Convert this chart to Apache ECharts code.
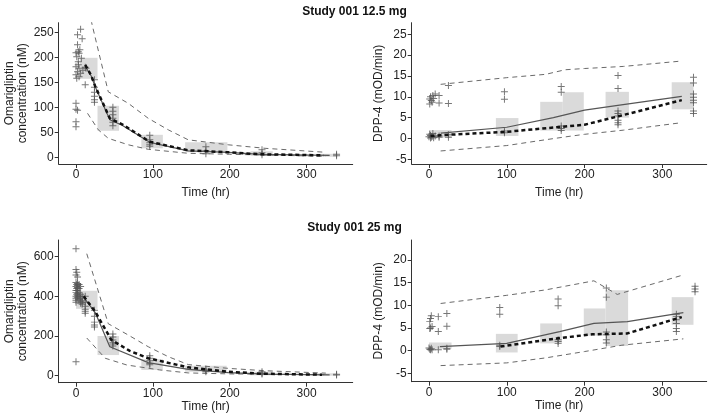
<!DOCTYPE html>
<html>
<head>
<meta charset="utf-8">
<script src="https://cdn.jsdelivr.net/npm/echarts@6/dist/echarts.min.js"></script>
<style>
  html, body { margin: 0; padding: 0; background: #fff; }
  #main { width: 709px; height: 419px; }
</style>
</head>
<body>
<div id="main"></div>
<script>
// ---- data (time in hr) ----
var titles = ["Study 001 12.5 mg", "Study 001 25 mg"];
var xTicks = [0, 100, 200, 300];
var pkTicks125 = [0, 50, 100, 150, 200, 250];
var pkTicks25 = [0, 200, 400, 600];
var pdTicks125 = [-5, 0, 5, 10, 15, 20, 25];
var pdTicks25 = [-5, 0, 5, 10, 15, 20];

// boxes: [t0, t1, low, high]
var pk125Boxes = [[5, 28, 157, 199], [28, 56, 53, 103], [85, 113, 18, 45], [142, 197, 10, 30], [227, 256, 3, 12], [313, 340, 1, 7]];
var pk125Upper = [[15, 310], [21, 265], [42, 131], [68, 108], [94, 78], [120, 55], [146, 35], [198, 25], [246, 18], [325, 10]];
var pk125Lower = [[15, 88], [29, 55], [42, 38], [68, 25], [94, 16], [146, 8], [200, 6], [246, 4.6], [325, 2]];
var pk125Obs = [[12, 182], [20, 162], [25, 141], [44, 75], [60, 64], [96, 30], [146, 13], [198, 10], [241, 6], [330, 4]];
var pk125Pred = [[12, 185], [20, 163], [25, 142], [44, 78], [60, 66], [96, 31], [146, 14], [198, 10], [241, 6], [322, 4]];
var pk125Points = [
  [6, 256], [2, 245], [8, 237], [2, 225], [3, 211], [0, 209], [4, 208], [1, 201], [7, 198], [3, 191],
  [0, 181], [4, 178], [2, 171], [9, 174], [0, 165], [4, 161], [1, 158], [6, 168], [3, 185], [5, 215],
  [12, 180], [13, 178], [12, 145], [0, 108], [0, 96], [2, 94], [0, 71], [0, 61],
  [24, 155], [24, 140], [24, 130], [24, 122], [24, 115], [24, 110],
  [48, 100], [48, 92], [48, 85], [48, 78], [48, 70], [48, 63],
  [96, 44], [96, 35], [96, 29], [96, 25], [96, 22],
  [169, 21], [169, 13], [169, 7], [242, 15], [242, 9], [242, 5], [339, 6], [339, 3]
];

var pd125Boxes = [[0, 29, 0.2, 2.0], [86, 115, 0.6, 4.9], [143, 172, 1.9, 8.8], [172, 199, 1.9, 11.1], [227, 257, 5.0, 11.2], [312, 340, 7.0, 13.5]];
var pd125Upper = [[15, 13.0], [100, 14.6], [150, 15.4], [175, 16.5], [200, 16.8], [250, 17.3], [325, 18.6]];
var pd125Lower = [[15, -3.0], [100, -1.7], [150, -0.3], [180, 0.5], [200, 1.0], [250, 2.0], [325, 3.8]];
var pd125Obs = [[15, 1.3], [100, 2.7], [160, 5.0], [200, 6.8], [245, 8.0], [325, 10.1]];
var pd125Pred = [[2, 0.6], [15, 0.8], [100, 1.6], [170, 2.8], [200, 3.3], [245, 5.4], [325, 9.2]];
var pd125Points = [
  [1, 8.3], [3, 9.1], [5, 10.3], [8, 10.7], [1, 9.5], [4, 8.7], [2, 10.0], [6, 9.6],
  [0, 0.4], [1, 1.0], [2, 0.7], [3, 0.3], [4, 0.5], [5, 1.2], [6, 0.2], [8, 0.6], [2, 0.1],
  [13, 10.3], [13, 8.5], [13, 0.6], [13, 0.3], [25, 12.7], [25, 8.4], [25, 0.9], [25, 0.3],
  [97, 11.2], [97, 9.4], [97, 1.8], [97, 1.4],
  [170, 12.5], [170, 11.1], [170, 3.0], [170, 2.4], [170, 1.9],
  [243, 15.1], [243, 12.0], [243, 6.6], [243, 6.0], [243, 5.4], [243, 4.4], [243, 3.8], [243, 3.3],
  [340, 14.7], [340, 13.3], [340, 10.7], [340, 9.9], [340, 9.2], [340, 8.6], [340, 6.6], [340, 6.0]
];

var pk25Boxes = [[0, 28, 337, 428], [28, 56, 104, 200], [85, 113, 29, 83], [142, 196, 20, 50], [227, 256, 2, 20], [313, 340, 0, 12]];
var pk25Upper = [[14, 615], [42, 262], [68, 205], [94, 146], [120, 96], [146, 56], [198, 37], [246, 25], [325, 13]];
var pk25Lower = [[14, 190], [38, 88], [66, 54], [109, 29], [146, 14], [200, 9], [250, 7], [325, 5]];
var pk25Obs = [[12, 385], [25, 318], [44, 146], [94, 66], [146, 32], [198, 15], [250, 8], [330, 4]];
var pk25Pred = [[10, 400], [25, 323], [46, 180], [70, 125], [94, 88], [146, 42], [198, 20], [241, 10], [320, 5]];
var pk25Points = [
  [0, 640], [0, 535], [1, 522], [0, 508], [2, 498], [0, 470], [1, 460], [0, 450], [1, 440], [0, 430],
  [0, 420], [1, 410], [0, 400], [0, 390], [0, 380], [0, 370], [0, 70],
  [2, 465], [2, 455], [2, 445], [2, 430], [2, 415], [2, 405], [2, 395],
  [4, 460], [4, 440], [4, 420], [4, 400], [4, 385], [6, 450], [6, 410], [6, 390], [6, 375], [6, 365],
  [8, 400], [8, 380], [8, 370], [8, 360],
  [12, 400], [12, 370], [12, 350], [12, 335], [12, 325], [12, 315],
  [24, 330], [24, 300], [24, 270], [24, 255], [24, 245],
  [48, 210], [48, 195], [48, 180], [48, 168], [48, 160], [48, 150],
  [96, 100], [96, 88], [96, 75], [96, 62], [96, 55],
  [169, 33], [169, 25], [169, 20], [242, 20], [242, 12], [242, 8], [339, 7], [339, 4]
];

var pd25Boxes = [[0, 29, 0.4, 1.8], [86, 114, -0.4, 3.7], [143, 171, 1.6, 6.0], [199, 227, 3.3, 9.3], [227, 256, 1.0, 13.3], [312, 340, 5.7, 11.8]];
var pd25Upper = [[15, 10.4], [100, 12.2], [150, 13.4], [212, 15.4], [242, 12.4], [327, 16.7]];
var pd25Lower = [[15, -3.3], [100, -2.7], [150, -1.6], [200, -0.2], [248, 1.2], [327, 2.6]];
var pd25Obs = [[14, 0.9], [100, 1.6], [168, 4.2], [212, 6.0], [255, 6.4], [327, 8.4]];
var pd25Pred = [[92, 0.9], [164, 2.7], [210, 3.6], [255, 3.8], [325, 7.4]];
var pd25Points = [
  [1, 6.4], [2, 7.1], [3, 7.7], [1, 4.9], [2, 5.0], [4, 5.3], [0, 0.6], [1, 0.3], [2, 0.2], [4, 0.2], [3, 0.5],
  [12, 7.5], [12, 4.2], [12, 0.2], [23, 8.2], [23, 5.4], [23, 0.5], [23, 0.3],
  [91, 9.5], [91, 8.0], [91, 1.2], [91, 0.9],
  [166, 11.4], [166, 9.9], [166, 2.4], [166, 2.0], [166, 1.6],
  [228, 13.8], [228, 11.8], [228, 4.1], [228, 3.5], [228, 2.4], [228, 1.7],
  [318, 8.0], [318, 7.5], [318, 6.8], [318, 6.0], [318, 4.9], [318, 4.2],
  [342, 14.2], [342, 13.6], [342, 13.0]
];

// ---- chart ----
var FONT = "'Liberation Sans', Arial, sans-serif";
var TXT = "#222";
var PLUS = "path://M-0.14,-1H0.14V-0.14H1V0.14H0.14V1H-0.14V0.14H-1V-0.14H-0.14Z";

var panels = [
  { grid: { left: 58.7, top: 22.7, width: 294, height: 141.3 }, xMin: -22.5, xMax: 360, yMin: -13.4, yMax: 269.2, yTicks: pkTicks125,
    yName: "Omarigliptin\nconcentration (nM)", yGap: 30, xGap: 23,
    boxes: pk125Boxes, upper: pk125Upper, lower: pk125Lower, obs: pk125Obs, pred: pk125Pred, points: pk125Points },
  { grid: { left: 411.7, top: 22.7, width: 295, height: 141.3 }, xMin: -22.2, xMax: 357, yMin: -6.13, yMax: 27.8, yTicks: pdTicks125,
    yName: "DPP-4 (mOD/min)", yGap: 27, xGap: 23,
    boxes: pd125Boxes, upper: pd125Upper, lower: pd125Lower, obs: pd125Obs, pred: pd125Pred, points: pd125Points },
  { grid: { left: 58.7, top: 240, width: 294, height: 142.7 }, xMin: -22.5, xMax: 360, yMin: -35.3, yMax: 684, yTicks: pkTicks25,
    yName: "Omarigliptin\nconcentration (nM)", yGap: 30, xGap: 17,
    boxes: pk25Boxes, upper: pk25Upper, lower: pk25Lower, obs: pk25Obs, pred: pk25Pred, points: pk25Points },
  { grid: { left: 411.7, top: 240, width: 295, height: 141.7 }, xMin: -22.2, xMax: 357, yMin: -6.85, yMax: 24.4, yTicks: pdTicks25,
    yName: "DPP-4 (mOD/min)", yGap: 27, xGap: 17,
    boxes: pd25Boxes, upper: pd25Upper, lower: pd25Lower, obs: pd25Obs, pred: pd25Pred, points: pd25Points }
];

function renderBox(params, api) {
  var p0 = api.coord([api.value(0), api.value(3)]);
  var p1 = api.coord([api.value(1), api.value(2)]);
  return {
    type: "rect",
    shape: { x: p0[0], y: p0[1], width: p1[0] - p0[0], height: p1[1] - p0[1] },
    style: { fill: "#dadada" }
  };
}

var grids = [], xAxes = [], yAxes = [], series = [];
panels.forEach(function (p, i) {
  grids.push(p.grid);
  xAxes.push({
    gridIndex: i, type: "value", min: p.xMin, max: p.xMax,
    name: "Time (hr)", nameLocation: "middle", nameGap: p.xGap,
    nameTextStyle: { fontFamily: FONT, fontSize: 12, color: TXT },
    axisLine: { show: true, onZero: false, lineStyle: { color: "#333", width: 1 } },
    axisTick: { show: true, length: 4, customValues: xTicks, lineStyle: { color: "#333" } },
    axisLabel: { customValues: xTicks, margin: 5, fontFamily: FONT, fontSize: 12, color: TXT },
    splitLine: { show: false }
  });
  yAxes.push({
    gridIndex: i, type: "value", min: p.yMin, max: p.yMax,
    name: p.yName, nameLocation: "middle", nameGap: p.yGap, nameRotate: 90,
    nameTextStyle: { fontFamily: FONT, fontSize: 12, color: TXT, lineHeight: 13 },
    axisLine: { show: true, onZero: false, lineStyle: { color: "#333", width: 1 } },
    axisTick: { show: true, length: 4, customValues: p.yTicks, lineStyle: { color: "#333" } },
    axisLabel: { customValues: p.yTicks, margin: 5, fontFamily: FONT, fontSize: 12, color: TXT },
    splitLine: { show: false }
  });
  series.push({
    type: "custom", xAxisIndex: i, yAxisIndex: i, z: 1,
    renderItem: renderBox, encode: { x: [0, 1], y: [2, 3] }, data: p.boxes
  });
  [p.upper, p.lower].forEach(function (d) {
    series.push({
      type: "line", xAxisIndex: i, yAxisIndex: i, z: 2, data: d, symbol: "none",
      lineStyle: { color: "#6a6a6a", width: 1, type: [5, 4] }
    });
  });
  series.push({
    type: "scatter", xAxisIndex: i, yAxisIndex: i, z: 3, data: p.points,
    symbol: PLUS, symbolSize: 7, itemStyle: { color: "#555" }
  });
  series.push({
    type: "line", xAxisIndex: i, yAxisIndex: i, z: 4, data: p.obs, symbol: "none",
    lineStyle: { color: "#555", width: 1.2 }
  });
  series.push({
    type: "line", xAxisIndex: i, yAxisIndex: i, z: 5, data: p.pred, symbol: "none",
    lineStyle: { color: "#111", width: 2.5, type: [4, 3] }
  });
});

var chart = echarts.init(document.getElementById("main"));
chart.setOption({
  animation: false,
  backgroundColor: "#fff",
  title: [
    { text: titles[0], left: "center", top: 1, textStyle: { fontFamily: FONT, fontSize: 12, fontWeight: "bold", color: "#111" } },
    { text: titles[1], left: "center", top: 217, textStyle: { fontFamily: FONT, fontSize: 12, fontWeight: "bold", color: "#111" } }
  ],
  grid: grids,
  xAxis: xAxes,
  yAxis: yAxes,
  series: series
});
</script>
</body>
</html>
